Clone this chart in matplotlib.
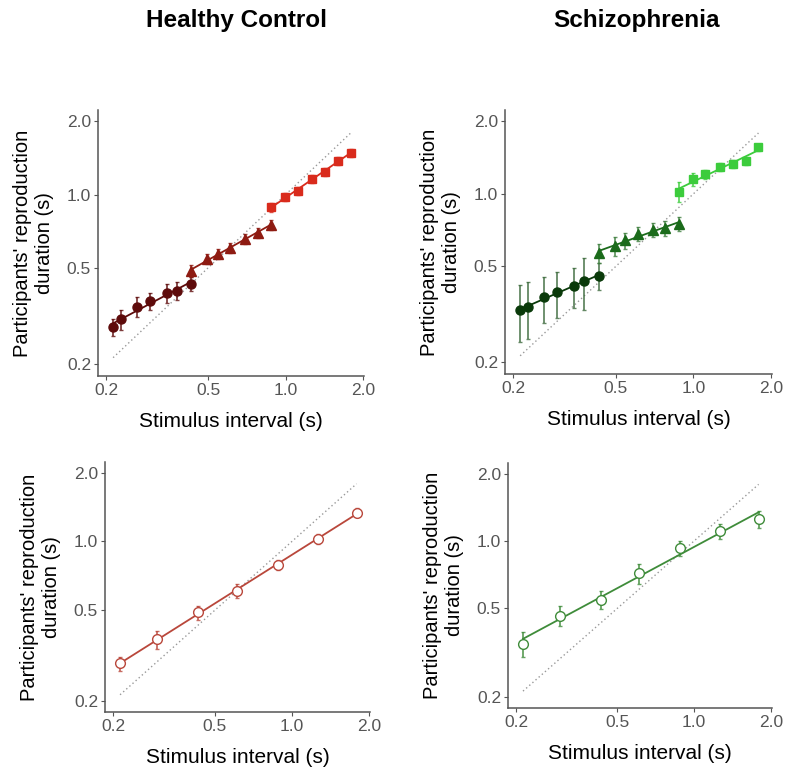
import matplotlib
matplotlib.use('Agg')
import matplotlib.pyplot as plt
import numpy as np

plt.rcParams['font.family'] = ['Liberation Sans', 'DejaVu Sans']

# stimulus intervals (s) for the three blocked ranges and the mixed condition
x_short = [0.213, 0.229, 0.263, 0.297, 0.346, 0.378, 0.43]
x_mid = [0.43, 0.495, 0.545, 0.61, 0.695, 0.78, 0.88]
x_long = [0.88, 0.995, 1.115, 1.265, 1.42, 1.60, 1.79]
x_mixed = [0.213, 0.297, 0.43, 0.61, 0.88, 1.265, 1.79]

# healthy control, blocked
hc_short = [0.284, 0.306, 0.345, 0.364, 0.393, 0.402, 0.429]
hc_short_se = [0.022, 0.030, 0.032, 0.030, 0.034, 0.033, 0.028]
hc_mid = [0.484, 0.545, 0.568, 0.605, 0.658, 0.697, 0.752]
hc_mid_se = [0.028, 0.026, 0.027, 0.029, 0.032, 0.033, 0.036]
hc_long = [0.885, 0.981, 1.036, 1.155, 1.243, 1.373, 1.49]
hc_long_se = [0.034, 0.038, 0.040, 0.044, 0.048, 0.053, 0.057]

# schizophrenia, blocked
sz_short = [0.330, 0.340, 0.373, 0.391, 0.414, 0.436, 0.458]
sz_short_se = [0.087, 0.090, 0.081, 0.085, 0.077, 0.106, 0.060]
sz_mid = [0.569, 0.610, 0.641, 0.681, 0.710, 0.721, 0.752]
sz_mid_se = [0.050, 0.055, 0.050, 0.045, 0.050, 0.050, 0.050]
sz_long = [1.022, 1.150, 1.206, 1.297, 1.334, 1.368, 1.56]
sz_long_se = [0.100, 0.075, 0.057, 0.050, 0.050, 0.055, 0.050]

# mixed condition
hc_mixed = [0.292, 0.372, 0.489, 0.607, 0.791, 1.023, 1.339]
hc_mixed_se = [0.021, 0.033, 0.035, 0.041, 0.042, 0.051, 0.063]
sz_mixed = [0.347, 0.462, 0.545, 0.718, 0.928, 1.108, 1.25]
sz_mixed_se = [0.045, 0.047, 0.049, 0.074, 0.068, 0.085, 0.113]

ticks = [0.2, 0.5, 1.0, 2.0]
tick_labels = ['0.2', '0.5', '1.0', '2.0']

W, H = 785, 773
fig = plt.figure(figsize=(W / 100, H / 100), dpi=100)


def rect(l, t, r, b):
    return [l / W, 1 - b / H, (r - l) / W, (b - t) / H]


def style(ax):
    ax.set_xscale('log')
    ax.set_yscale('log')
    ax.set_xlim(0.186, 2.02)
    ax.set_ylim(0.179, 2.23)
    ax.set_xticks(ticks)
    ax.set_xticklabels(tick_labels)
    ax.set_yticks(ticks)
    ax.set_yticklabels(tick_labels)
    ax.minorticks_off()
    for s in ['top', 'right']:
        ax.spines[s].set_visible(False)
    for s in ['left', 'bottom']:
        ax.spines[s].set_color('#555555')
        ax.spines[s].set_linewidth(1.1)
    ax.tick_params(length=3, color='#555555', labelcolor='#555555', labelsize=12.5, pad=2)
    ax.set_xlabel('Stimulus interval (s)', fontsize=15, labelpad=10)
    ax.set_ylabel("Participants' reproduction\nduration (s)", fontsize=14.5, labelpad=9)
    # identity line
    ax.plot([0.213, 1.79], [0.213, 1.79], ls=(0, (1, 2)), color='#999999', lw=1)


def group(ax, x, y, se, color, marker, ms=6.5, open_marker=False, ecolor=None):
    lx, ly = np.log10(x), np.log10(y)
    k, b = np.polyfit(lx, ly, 1)
    xs = np.array([x[0], x[-1]])
    ax.plot(xs, 10 ** (b + k * np.log10(xs)), color=color, lw=1.3, zorder=2)
    ax.errorbar(x, y, yerr=se, fmt='none', ecolor=ecolor or color, elinewidth=1.3,
                capsize=1.5, capthick=1, alpha=0.8, zorder=3)
    if open_marker:
        ax.plot(x, y, marker, ms=ms, mfc='white', mec=color, mew=1, ls='none', zorder=4)
    else:
        ax.plot(x, y, marker, ms=ms, color=color, mec=color, ls='none', zorder=4)


# Healthy control, blocked
ax1 = fig.add_axes(rect(98, 110, 364, 376))
style(ax1)
group(ax1, x_short, hc_short, hc_short_se, '#5e0b0b', 'o')
group(ax1, x_mid, hc_mid, hc_mid_se, '#8e1b12', '^')
group(ax1, x_long, hc_long, hc_long_se, '#d92b1c', 's', ms=6)

# Schizophrenia, blocked
ax2 = fig.add_axes(rect(505, 110, 772, 374))
style(ax2)
group(ax2, x_short, sz_short, sz_short_se, '#0a3a0a', 'o', ecolor='#3d6b3d')
group(ax2, x_mid, sz_mid, sz_mid_se, '#1b6b1b', '^', ecolor='#3f7f3f')
group(ax2, x_long, sz_long, sz_long_se, '#3ccc3c', 's', ms=6)

# Healthy control, mixed
ax3 = fig.add_axes(rect(105, 462, 370, 712))
style(ax3)
group(ax3, x_mixed, hc_mixed, hc_mixed_se, '#b9473b', 'o', ms=7, open_marker=True)

# Schizophrenia, mixed
ax4 = fig.add_axes(rect(508, 463, 772, 708))
style(ax4)
group(ax4, x_mixed, sz_mixed, sz_mixed_se, '#3f8c3a', 'o', ms=7, open_marker=True)

fig.text(237 / W, 1 - 20 / H, 'Healthy Control', ha='center', va='center',
         fontsize=17.5, fontweight='bold')
fig.text(637 / W, 1 - 20 / H, 'Schizophrenia', ha='center', va='center',
         fontsize=17.5, fontweight='bold')

fig.savefig('out.png', dpi=100)
